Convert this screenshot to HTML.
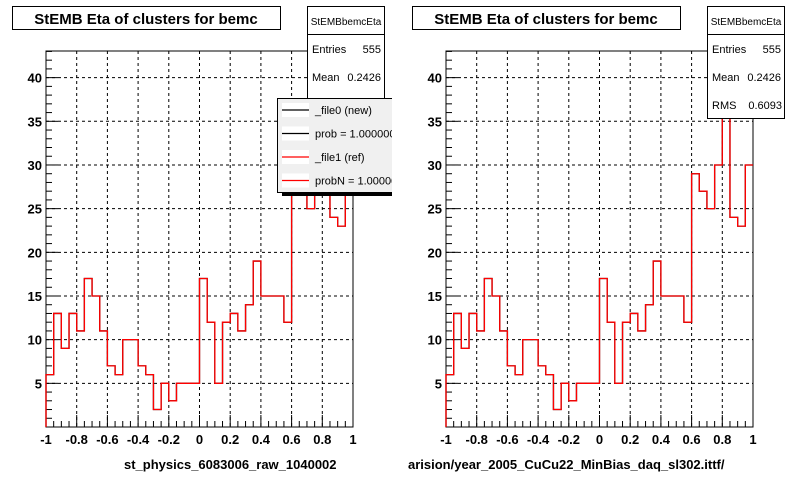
<!DOCTYPE html>
<html><head><meta charset="utf-8"><style>
body{margin:0;background:#fff;}
svg{display:block;font-family:"Liberation Sans",Arial,sans-serif;}
</style></head><body>
<svg id="chart" width="800" height="480" viewBox="0 0 800 480">
<defs><clipPath id="leftclip"><rect x="0" y="0" width="392" height="480"/></clipPath></defs>
</svg>
<script>
const binEdgesStart = -1;
const binWidth = 0.05;
const countsNew = [6,13,9,13,11,17,15,11,7,6,10,10,7,6,2,5,3,5,5,5,17,12,5,12,13,11,14,19,15,15,15,12,29,27,25,30,41,24,23,30];
const countsRef = [6,13,9,13,11,17,15,11,7,6,10,10,7,6,2,5,3,5,5,5,17,12,5,12,13,11,14,19,15,15,15,12,29,27,25,30,41,24,23,30];
const xTickLabels = ["-1","-0.8","-0.6","-0.4","-0.2","0","0.2","0.4","0.6","0.8","1"];
const xTickValues = [-1,-0.8,-0.6,-0.4,-0.2,0,0.2,0.4,0.6,0.8,1];
const yTickValues = [5,10,15,20,25,30,35,40];
const yTickLabels = ["5","10","15","20","25","30","35","40"];

const NS="http://www.w3.org/2000/svg";
const svg=document.getElementById('chart');
function mk(tag,attrs,parent,text){const e=document.createElementNS(NS,tag);for(const k in attrs)e.setAttribute(k,attrs[k]);if(text!==undefined)e.textContent=text;(parent||svg).appendChild(e);return e;}

function panel(off, idx, xTitle, withLegend){
  const g=mk('g',{});
  
  
  const L=46+off,R=353+off,T=51,B=427,yMax=43.05;
  const X=v=>L+(v+1)/2*(R-L);
  const Y=v=>B-v/yMax*(B-T);
  xTickValues.forEach(v=>{if(v>-1&&v<1){const l=mk('line',{x1:X(v),x2:X(v),y1:T,y2:B,stroke:'#000','stroke-width':1,'stroke-dasharray':'3,3'},g);}});
  yTickValues.forEach(v=>{const l=mk('line',{x1:L,x2:R,y1:Y(v),y2:Y(v),stroke:'#000','stroke-width':1,'stroke-dasharray':'3,3'},g);});
  const fr=mk('rect',{x:L,y:T,width:R-L,height:B-T,fill:'none',stroke:'#000','stroke-width':1},g);
  
  for(let i=0;i<=40;i++){const v=-1+i*0.05;const major=i%4===0;mk('line',{x1:X(v),x2:X(v),y1:B,y2:B-(major?12:6),stroke:'#000'},g);}
  for(let v=0;v<=43;v++){const major=v%5===0;mk('line',{x1:L,x2:L+(major?12:6),y1:Y(v),y2:Y(v),stroke:'#000'},g);}
  xTickLabels.forEach((t,i)=>{const e=mk('text',{x:X(xTickValues[i]),y:444,'font-size':13,'font-weight':'bold','text-anchor':'middle'},g,t);});
  yTickLabels.forEach((t,i)=>{const e=mk('text',{x:L-4,y:Y(yTickValues[i])+5,'font-size':13,'font-weight':'bold','text-anchor':'end'},g,t);});
  function hist(arr,color,name){
    let d='M'+X(binEdgesStart)+','+B;
    arr.forEach((c,i)=>{const x0=X(binEdgesStart+i*binWidth),x1=X(binEdgesStart+(i+1)*binWidth);d+=' L'+x0+','+Y(c)+' L'+x1+','+Y(c);});
    const p=mk('path',{d:d,fill:'none',stroke:color,'stroke-width':1.3},g);
    
  }
  hist(countsNew,'#000','histogram-new');
  hist(countsRef,'#f00','histogram-ref');
  const tb=mk('rect',{x:12.5+off,y:6.5,width:268,height:23,fill:'#fff',stroke:'#000'},g);
  
  const tt=mk('text',{x:146+off,y:24,'font-size':15,'font-weight':'bold','text-anchor':'middle'},g,'StEMB Eta of clusters for bemc');
  
  const ov=mk('g',withLegend?{'clip-path':'url(#leftclip)'}:{},g);
  const sg=mk('g',{},ov);
  mk('rect',{x:307.5+off,y:6.5,width:77,height:112,fill:'#fff',stroke:'#000'},sg);
  mk('line',{x1:307.5+off,x2:384.5+off,y1:34.5,y2:34.5,stroke:'#000'},sg);
  mk('text',{x:346+off,y:25,'font-size':10,'text-anchor':'middle'},sg,'StEMBbemcEta');
  mk('text',{x:312+off,y:53,'font-size':11},sg,'Entries');
  mk('text',{x:381+off,y:53,'font-size':11,'text-anchor':'end'},sg,'555');
  mk('text',{x:312+off,y:81,'font-size':11},sg,'Mean');
  mk('text',{x:381+off,y:81,'font-size':11,'text-anchor':'end'},sg,'0.2426');
  mk('text',{x:312+off,y:109,'font-size':11},sg,'RMS');
  mk('text',{x:382+off,y:109,'font-size':11,'text-anchor':'end'},sg,'0.6093');
  if(withLegend){
    const lg=mk('g',{},ov);
    mk('rect',{x:282+off,y:102,width:118,height:94,fill:'#000'},lg);
    mk('rect',{x:277.5+off,y:98.5,width:122,height:94,fill:'#f0f0f0',stroke:'#000'},lg);
    const items=[['_file0 (new)','#000'],['prob = 1.000000','#000'],['_file1 (ref)','#f00'],['probN = 1.000000','#f00']];
    items.forEach((it,i)=>{const y=110+i*23.5;
      mk('rect',{x:282+off,y:y-7,width:27,height:14,fill:'#fff'},lg);
      mk('line',{x1:282+off,x2:309+off,y1:y,y2:y,stroke:it[1],'stroke-width':1.3},lg);
      const t=mk('text',{x:315+off,y:y+4,'font-size':11},lg,it[0]);});
  }
  const xt=mk('text',{x:xTitle[1]+off,y:469,'font-size':13,'font-weight':'bold'},g,xTitle[0]);
  
}
panel(0,1,['st_physics_6083006_raw_1040002',124],true);
panel(400,2,['arision/year_2005_CuCu22_MinBias_daq_sl302.ittf/',8],false);
</script>
</body></html>
